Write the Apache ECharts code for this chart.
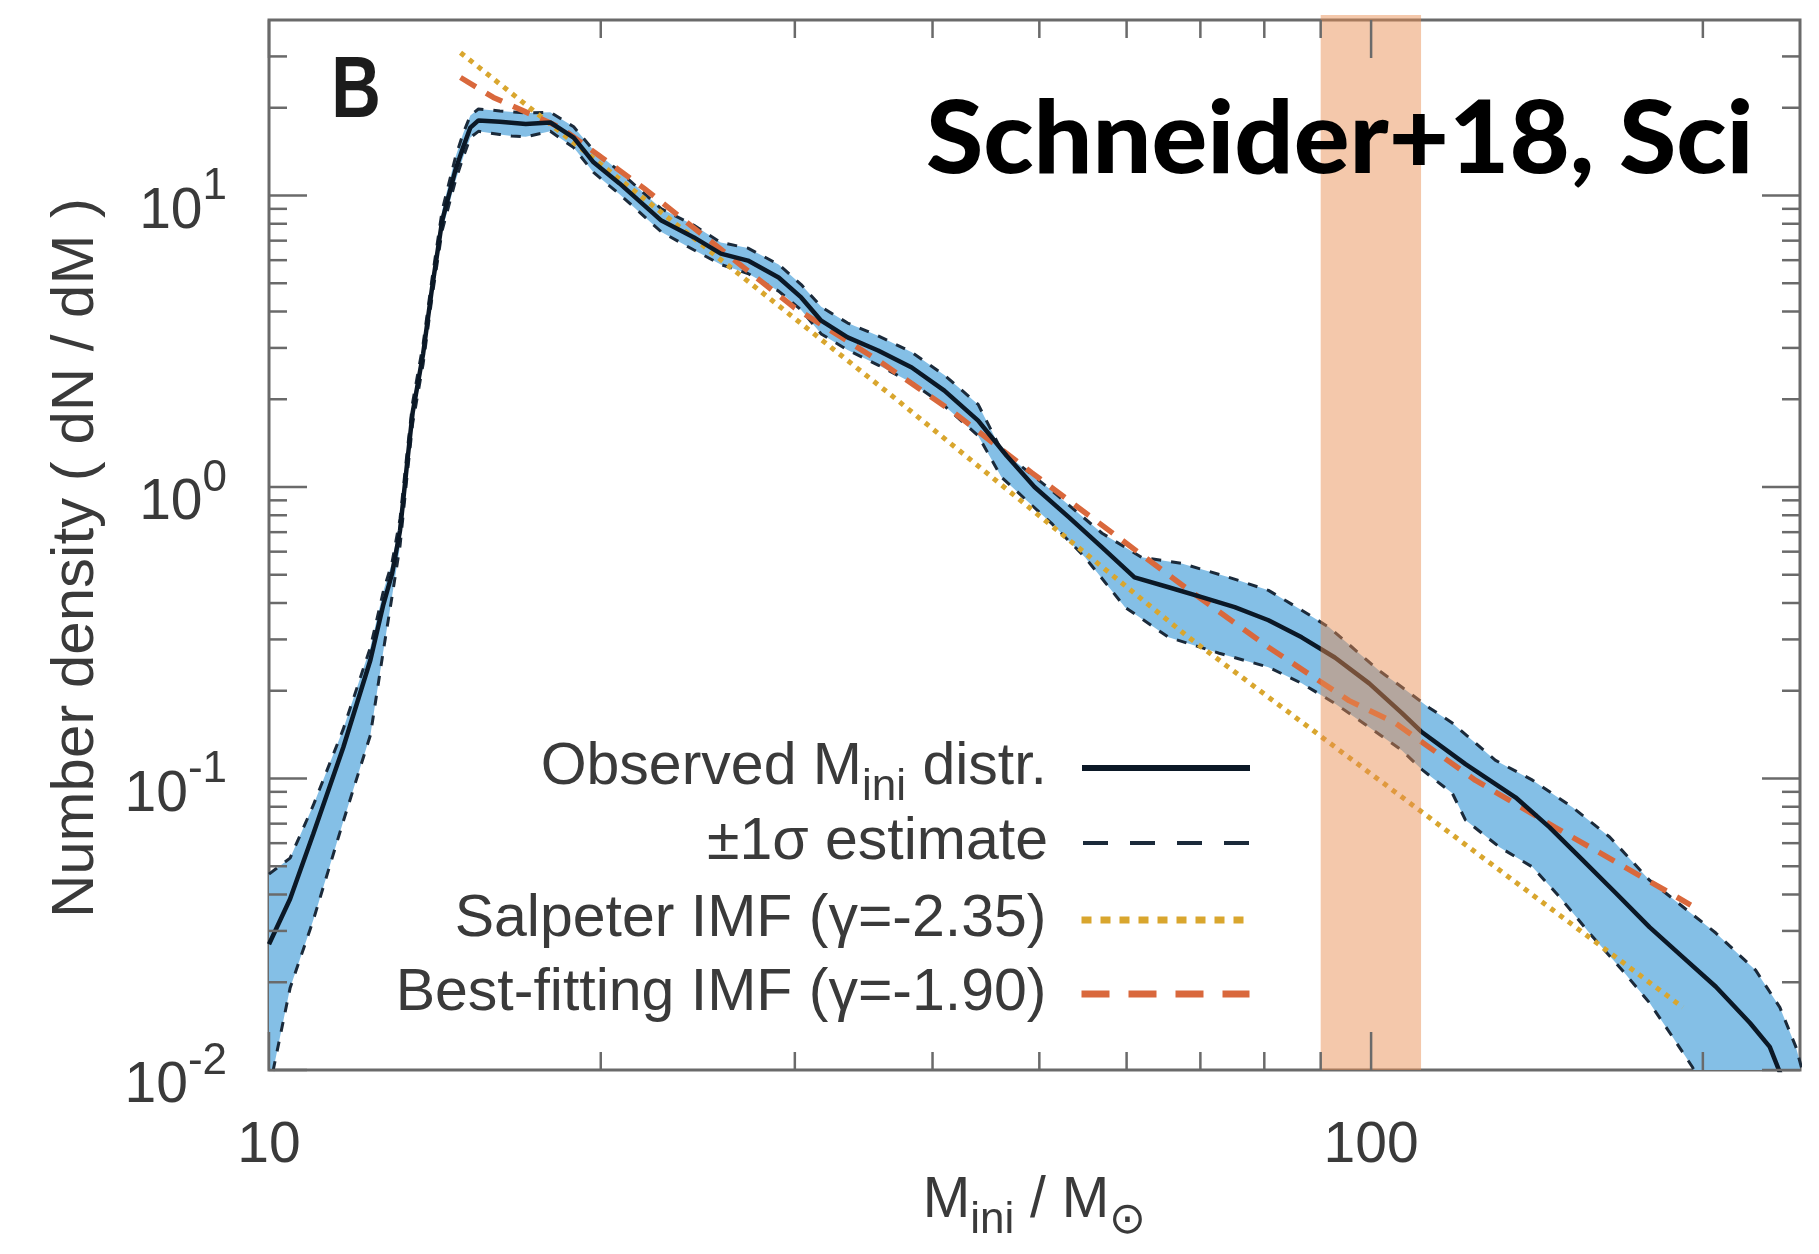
<!DOCTYPE html>
<html><head><meta charset="utf-8">
<script src="https://cdn.jsdelivr.net/npm/echarts@6/dist/echarts.min.js"></script>
<style>html,body{margin:0;padding:0;background:#fff}#c{width:1819px;height:1254px}</style>
</head><body><div id="c"></div>
<script>
// ---------- data ----------
const obsMass = [10, 10.45, 10.97, 11.68, 12.36, 12.7, 12.93, 13.15, 13.34, 13.5, 13.8, 14.06, 14.36, 14.76, 15.0, 15.23, 15.49, 16.2, 17.1, 18.0, 18.9, 19.7, 20.8, 22.7, 24.3, 25.7, 27.2, 29.0, 30.4, 31.7, 33.5, 35.7, 38.3, 41.0, 44.0, 46.7, 49.5, 53.2, 57.0, 61.0, 65.5, 70.2, 75.2, 80.7, 86.5, 92.7, 99.6, 106.6, 111, 121.8, 135.2, 145.2, 155.6, 166.8, 178.9, 191.8, 205.5, 220.7, 230, 240];
const obsVal = [0.027, 0.0386, 0.0646, 0.128, 0.255, 0.396, 0.503, 0.71, 1.19, 1.8, 2.87, 4.83, 8.2, 12.2, 14.6, 17.1, 18.1, 17.9, 17.6, 17.8, 15.8, 13.0, 11.0, 8.2, 7.18, 6.32, 5.98, 5.23, 4.47, 3.72, 3.26, 2.94, 2.57, 2.14, 1.69, 1.28, 1.0, 0.787, 0.621, 0.49, 0.453, 0.419, 0.387, 0.349, 0.305, 0.26, 0.212, 0.168, 0.145, 0.112, 0.0862, 0.068, 0.0525, 0.0404, 0.0309, 0.0244, 0.0193, 0.0145, 0.012, 0.008];

const upperMass = [10, 10.45, 10.97, 11.68, 12.36, 12.7, 12.93, 13.15, 13.34, 13.5, 13.8, 14.06, 14.36, 14.76, 15.0, 15.23, 15.49, 16.2, 17.1, 18.0, 18.9, 19.7, 20.8, 22.7, 24.3, 25.7, 27.2, 29.0, 30.4, 31.7, 33.5, 35.7, 38.3, 41.0, 44.0, 46.2, 51.3, 57.0, 61.9, 67.3, 74.3, 80.7, 86.5, 91.6, 96.1, 101.6, 106.6, 112.9, 118.5, 129.6, 140.1, 152.3, 164.6, 178.9, 205.5, 223.3, 234.9, 242.9, 247];
const upperVal = [0.047, 0.0533, 0.081, 0.148, 0.282, 0.44, 0.55, 0.78, 1.3, 1.95, 3.1, 5.2, 8.9, 13.5, 16.3, 18.8, 19.8, 19.5, 19.2, 19.3, 17.2, 14.3, 12.1, 9.0, 7.9, 6.9, 6.6, 5.8, 4.95, 4.15, 3.65, 3.3, 2.9, 2.42, 1.92, 1.335, 0.973, 0.694, 0.574, 0.547, 0.49, 0.442, 0.378, 0.33, 0.282, 0.235, 0.206, 0.175, 0.155, 0.1156, 0.0987, 0.0797, 0.063, 0.0448, 0.0295, 0.022, 0.0164, 0.012, 0.0095];

const lowerMass = [10, 10.45, 10.97, 11.68, 12.36, 12.7, 12.93, 13.15, 13.34, 13.5, 13.8, 14.06, 14.36, 14.76, 15.0, 15.23, 15.49, 16.2, 16.6, 17.1, 18.0, 18.9, 19.7, 20.8, 22.7, 24.3, 25.7, 27.2, 29.0, 30.4, 31.7, 33.5, 35.7, 38.3, 41.0, 44.0, 46.2, 51.3, 55.0, 59.8, 65.5, 72.8, 80.7, 86.5, 92.7, 99.6, 106.6, 111.3, 118.5, 121.8, 130.8, 140.1, 148.3, 157.8, 169.0, 178.9, 187.7, 195.8, 200];
const lowerVal = [0.0085, 0.0191, 0.0327, 0.0714, 0.141, 0.275, 0.42, 0.63, 1.08, 1.65, 2.65, 4.5, 7.6, 11.2, 13.5, 15.8, 16.6, 16.2, 16.0, 15.9, 16.6, 14.6, 12.0, 10.1, 7.5, 6.5, 5.8, 5.4, 4.7, 4.05, 3.35, 2.95, 2.62, 2.28, 1.9, 1.5, 1.08, 0.75, 0.574, 0.387, 0.305, 0.269, 0.241, 0.212, 0.181, 0.15, 0.125, 0.107, 0.089, 0.072, 0.0581, 0.0497, 0.0392, 0.0295, 0.022, 0.017, 0.013, 0.0102, 0.0084];

const salpMass = [14.92, 36.9, 68.3, 110.6, 191.8];
const salpVal = [30.9, 2.03, 0.305, 0.0779, 0.0164];

const fitMass = [14.92, 15.98, 18.39, 21.88, 29.95, 35.7, 41.9, 49.2, 67.8, 80.7, 95.5, 105.2, 124.3, 146.9, 173.8, 195];
const fitVal = [25.4, 21.7, 17.1, 10.6, 4.13, 2.72, 1.79, 1.12, 0.453, 0.282, 0.185, 0.155, 0.0987, 0.068, 0.0473, 0.0368];

const bandRange = [90, 111];           // shaded mass range
const xRange = [10, 245];
const yRange = [0.01, 40];
const xMajorTicks = [10, 100];
const xMinorTicks = [20, 30, 40, 50, 60, 70, 80, 90, 200];
const yMajorTicks = [0.01, 0.1, 1, 10];
const yMinorTicks = [0.02, 0.03, 0.04, 0.05, 0.06, 0.07, 0.08, 0.09, 0.2, 0.3, 0.4, 0.5, 0.6, 0.7, 0.8, 0.9, 2, 3, 4, 5, 6, 7, 8, 9, 20, 30];
const legendNames = ['Observed Mini distr.', '±1σ estimate', 'Salpeter IMF (γ=-2.35)', 'Best-fitting IMF (γ=-1.90)'];

// ---------- chart ----------
const FONT = 'Liberation Sans';
const TXT = '#3a3a3a';
const pairs = (xs, ys) => xs.map((x, i) => [x, ys[i]]);

const tickData = [
  ...xMajorTicks.map(v => [v, 1, 0, 1]),
  ...xMinorTicks.map(v => [v, 1, 0, 0]),
  ...yMajorTicks.map(v => [20, v, 1, 1]),
  ...yMinorTicks.map(v => [20, v, 1, 0])
];

const legendCenters = [768, 843, 920, 994];
const legendLine = [
  {width: 6, type: 'solid'},
  {width: 4, type: [25, 22]},
  {width: 7, type: [10, 9]},
  {width: 7, type: [28, 19]}
];

const chart = echarts.init(document.getElementById('c'), null, {renderer: 'canvas'});
const option = {
  animation: false,
  backgroundColor: '#fff',
  grid: {left: 269, right: 19, top: 20, bottom: 184, show: true, borderColor: '#6a6a6a', borderWidth: 3, backgroundColor: 'transparent', outerBoundsMode: 'none', containLabel: false},
  xAxis: {
    type: 'log', logBase: 10, min: xRange[0], max: xRange[1],
    axisLine: {show: false}, axisTick: {show: false}, splitLine: {show: false},
    axisLabel: {
      fontSize: 57, color: TXT, fontFamily: FONT, margin: 48, showMinLabel: true, showMaxLabel: true,
      formatter: v => { const e = Math.log10(v); return Math.abs(e - Math.round(e)) < 1e-6 ? String(Math.round(v)) : ''; }
    },
    name: 'M{sub|ini} / M{sub|⊙}', nameLocation: 'middle', nameGap: 89, nameMoveOverlap: false,
    nameTextStyle: {fontSize: 57, color: TXT, fontFamily: FONT, lineHeight: 84,
      rich: {sub: {fontSize: 44, lineHeight: 44, verticalAlign: 'bottom', color: TXT, fontFamily: FONT}}}
  },
  yAxis: {
    type: 'log', logBase: 10, min: yRange[0], max: yRange[1],
    axisLine: {show: false}, axisTick: {show: false}, splitLine: {show: false},
    axisLabel: {
      fontSize: 57, color: TXT, fontFamily: FONT, margin: 42, lineHeight: 94, padding: [33, 0, 0, 0],
      showMinLabel: true, showMaxLabel: true,
      formatter: v => { const e = Math.log10(v); const r = Math.round(e); return Math.abs(e - r) < 1e-6 ? '10{sup|' + r + '}' : ''; },
      rich: {sup: {fontSize: 44, lineHeight: 44, verticalAlign: 'top', color: TXT, fontFamily: FONT}}
    },
    name: 'Number density ( dN / dM )', nameLocation: 'middle', nameRotate: 90, nameGap: 163, nameMoveOverlap: false,
    nameTextStyle: {fontSize: 60, color: TXT, fontFamily: FONT, padding: [0, 26, 0, 0]}
  },
  legend: legendNames.map((n, i) => ({
    data: [n], orient: 'horizontal', align: 'right', selectedMode: false,
    right: 566, top: legendCenters[i] - 42, padding: 0,
    itemWidth: 168, itemHeight: 30,
    itemStyle: {opacity: 0},
    lineStyle: {width: legendLine[i].width, type: legendLine[i].type},
    formatter: name => name === legendNames[0] ? 'Observed M{sub|ini} distr.' : name,
    textStyle: {fontSize: 59, color: TXT, fontFamily: FONT, lineHeight: 84, padding: [0, 30, 0, 0],
      rich: {sub: {fontSize: 44, lineHeight: 44, verticalAlign: 'bottom', color: TXT, fontFamily: FONT}}}
  })),
  graphic: [
    {type: 'text', x: 356, y: 93, scaleX: 0.78, z: 100,
     style: {text: 'B', font: 'bold 88px "Liberation Sans"', fill: '#1c1c1c', align: 'center', verticalAlign: 'middle', textAlign: 'center', textVerticalAlign: 'middle'}},
    {type: 'text', x: 926, y: 140, z: 100, scaleX: 1.03,
     style: {text: 'Schneider+18, Sci', font: '900 101px Lato', fill: '#000', align: 'left', verticalAlign: 'middle', textAlign: 'left', textVerticalAlign: 'middle'}}
  ],
  series: [
    {
      name: 'band', type: 'custom', z: 1, clip: true, silent: true,
      data: [[100, 1]], encode: {x: 0, y: 1},
      renderItem: (params, api) => {
        const pts = upperMass.map((m, i) => api.coord([m, upperVal[i]]));
        for (let i = lowerMass.length - 1; i >= 0; i--) pts.push(api.coord([lowerMass[i], lowerVal[i]]));
        return {type: 'polygon', shape: {points: pts}, style: {fill: '#84bfe6', stroke: null}};
      }
    },
    {name: legendNames[1], type: 'line', z: 2, symbol: 'none', showSymbol: false, data: pairs(upperMass, upperVal),
     lineStyle: {color: '#1b2a3a', width: 3, type: [10, 10]}, itemStyle: {color: '#1b2a3a'}},
    {name: legendNames[1], type: 'line', z: 2, symbol: 'none', showSymbol: false, data: pairs(lowerMass, lowerVal),
     lineStyle: {color: '#1b2a3a', width: 3, type: [10, 10]}, itemStyle: {color: '#1b2a3a'}},
    {name: legendNames[2], type: 'line', z: 3, symbol: 'none', showSymbol: false, data: pairs(salpMass, salpVal),
     lineStyle: {color: '#d9a62e', width: 5, type: [5, 6]}, itemStyle: {color: '#d8b040'}},
    {name: legendNames[3], type: 'line', z: 4, symbol: 'none', showSymbol: false, data: pairs(fitMass, fitVal),
     lineStyle: {color: '#d9683c', width: 5.5, type: [18, 12]}, itemStyle: {color: '#d9683c'}},
    {name: legendNames[0], type: 'line', z: 5, symbol: 'none', showSymbol: false, data: pairs(obsMass, obsVal),
     lineStyle: {color: '#0b1826', width: 4.5}, itemStyle: {color: '#333'}},
    {
      name: 'range', type: 'custom', z: 6, silent: true,
      data: [bandRange], encode: {x: [0, 1]},
      renderItem: (params, api) => {
        const p0 = api.coord([api.value(0), yRange[1]]);
        const p1 = api.coord([api.value(1), yRange[0]]);
        return {type: 'rect', shape: {x: p0[0], y: p0[1] - 5, width: p1[0] - p0[0], height: p1[1] - p0[1] + 5},
                style: {fill: 'rgba(232,140,80,0.48)'}};
      }
    },
    {
      name: 'ticks', type: 'custom', z: 7, silent: true,
      data: tickData, encode: {x: 0, y: 1},
      renderItem: (params, api) => {
        const cs = params.coordSys;
        const len = api.value(3) ? 38 : 18;
        const st = {stroke: '#6a6a6a', lineWidth: 2.5};
        if (api.value(2) === 0) {
          const x = api.coord([api.value(0), 1])[0];
          return {type: 'group', children: [
            {type: 'line', shape: {x1: x, y1: cs.y + cs.height, x2: x, y2: cs.y + cs.height - len}, style: st},
            {type: 'line', shape: {x1: x, y1: cs.y, x2: x, y2: cs.y + len}, style: st}
          ]};
        }
        const y = api.coord([20, api.value(1)])[1];
        return {type: 'group', children: [
          {type: 'line', shape: {x1: cs.x, y1: y, x2: cs.x + len, y2: y}, style: st},
          {type: 'line', shape: {x1: cs.x + cs.width, y1: y, x2: cs.x + cs.width - len, y2: y}, style: st}
        ]};
      }
    }
  ]
};
chart.setOption(option);
</script>
</body></html>
